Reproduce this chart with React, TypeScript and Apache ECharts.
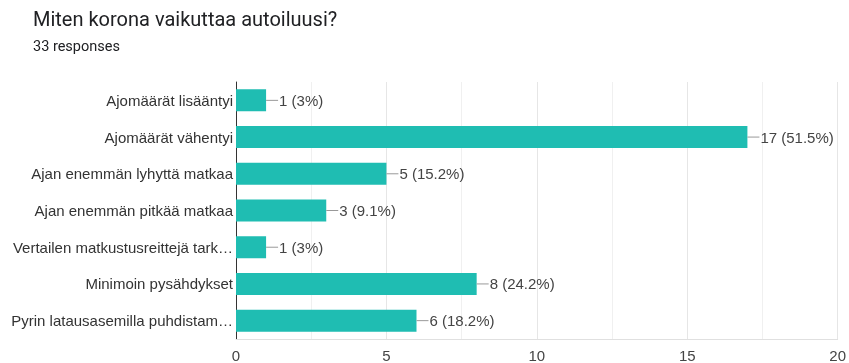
import React, { useEffect, useRef } from "react";
import * as echarts from "echarts";

const categories = [
  "Ajomäärät lisääntyi",
  "Ajomäärät vähentyi",
  "Ajan enemmän lyhyttä matkaa",
  "Ajan enemmän pitkää matkaa",
  "Vertailen matkustusreittejä tark…",
  "Minimoin pysähdykset",
  "Pyrin latausasemilla puhdistam…",
];
const counts = [1, 17, 5, 3, 1, 8, 6];
const percents = ["3%", "51.5%", "15.2%", "9.1%", "3%", "24.2%", "18.2%"];
const title = "Miten korona vaikuttaa autoiluusi?";
const subtitle = "33 responses";

export default function App() {
  const ref = useRef<HTMLDivElement>(null);
  useEffect(() => {
    if (!ref.current) return;
    const chart = echarts.init(ref.current, undefined, { renderer: "svg" });
    chart.setOption({
      animation: false,
      textStyle: { fontFamily: "Liberation Sans, Arial, sans-serif" },
      title: [
        {
          text: title,
          left: 25,
          top: 1,
          padding: 0,
          textStyle: { fontSize: 20, fontWeight: "normal", color: "#202124", fontFamily: "Roboto, Liberation Sans, sans-serif" },
        },
        {
          text: subtitle,
          left: 25,
          top: 31,
          padding: 0,
          textStyle: { fontSize: 14.5, fontWeight: "normal", color: "#202124", fontFamily: "Roboto, Liberation Sans, sans-serif" },
        },
      ],
      grid: { left: 228, right: 5, top: 74, bottom: 22, containLabel: false },
      xAxis: {
        type: "value",
        min: 0,
        max: 20,
        interval: 5,
        axisLine: { show: true, lineStyle: { color: "#e0e0e0" } },
        axisTick: { show: false },
        axisLabel: { color: "#444", fontSize: 15, margin: 9 },
        splitLine: { show: true, lineStyle: { color: "#e6e6e6" } },
        minorTick: { show: false, splitNumber: 2 },
        minorSplitLine: { show: true, lineStyle: { color: "#f0f0f0" } },
      },
      yAxis: {
        type: "category",
        data: categories,
        inverse: true,
        axisLine: { show: true, lineStyle: { color: "#333", width: 1 } },
        axisTick: { show: false },
        axisLabel: { color: "#333", fontSize: 15, margin: 3 },
        splitLine: { show: false },
      },
      series: [
        {
          type: "bar",
          data: counts,
          barCategoryGap: "40%",
          itemStyle: { color: "#1fbdb2" },
          label: {
            show: true,
            position: "right",
            distance: 0,
            formatter: (p: any) => `{ln|}{t|${counts[p.dataIndex]} (${percents[p.dataIndex]})}`,
            rich: {
              ln: { width: 12, height: 1, backgroundColor: "#999", verticalAlign: "middle" },
              t: { color: "#444", fontSize: 15, padding: [0, 0, 0, 1] },
            },
          },
        },
      ],
    });
    return () => chart.dispose();
  }, []);
  return (
    <div
      ref={ref}
      style={{ position: "fixed", left: 8, top: 8, width: 841, height: 355 }}
    />
  );
}
